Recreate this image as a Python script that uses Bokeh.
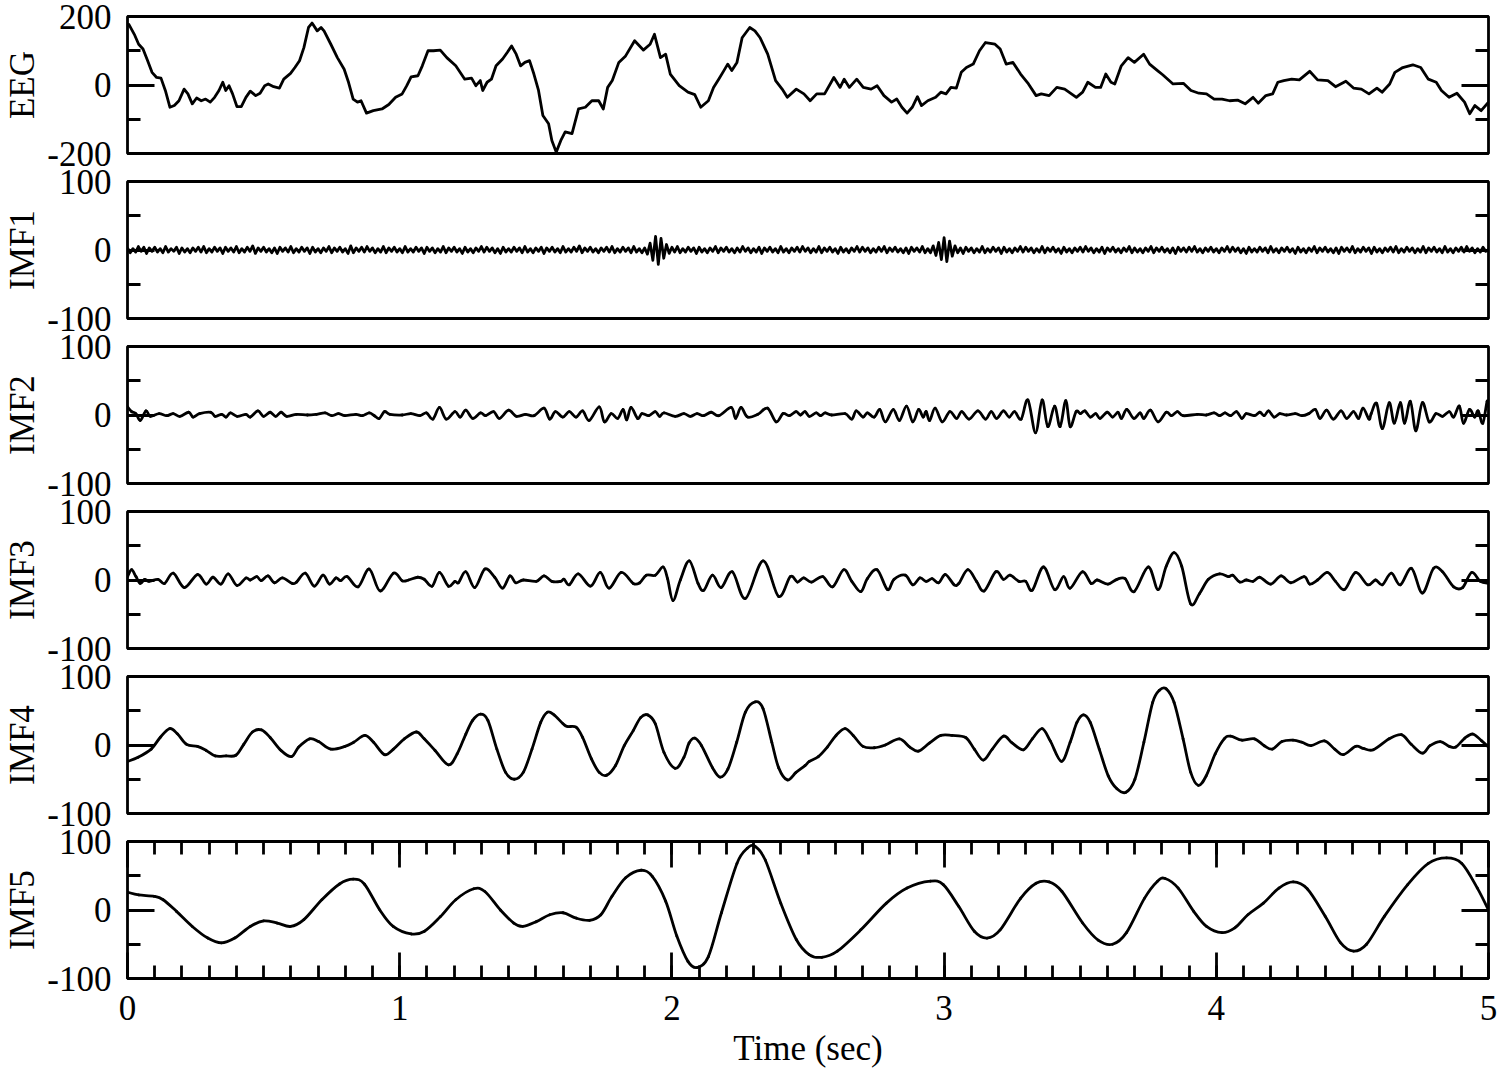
import numpy as np
from bokeh.plotting import figure
from bokeh.layouts import column
from bokeh.models import Range1d, LinearAxis, FixedTicker, SingleIntervalTicker, CustomJSTickFormatter
from bokeh.embed import file_html
from bokeh.resources import INLINE

FONT = "Liberation Serif"

# ---------------- data ----------------
panel_names = ["EEG", "IMF1", "IMF2", "IMF3", "IMF4", "IMF5"]
panel_limits = [200, 100, 100, 100, 100, 100]

eeg_t = [0.000, 0.005, 0.025, 0.041, 0.057, 0.074, 0.090, 0.107, 0.123, 0.139,
         0.156, 0.172, 0.189, 0.208, 0.222, 0.238, 0.254, 0.271, 0.287, 0.304,
         0.320, 0.336, 0.350, 0.361, 0.373, 0.386, 0.402, 0.418, 0.435, 0.451,
         0.471, 0.487, 0.504, 0.517, 0.537, 0.558, 0.574, 0.599, 0.615, 0.632,
         0.648, 0.665, 0.678, 0.697, 0.711, 0.722, 0.747, 0.771, 0.796, 0.812,
         0.829, 0.845, 0.858, 0.878, 0.903, 0.935, 0.960, 0.985, 1.009, 1.026,
         1.042, 1.067, 1.083, 1.104, 1.124, 1.149, 1.173, 1.206, 1.239, 1.264,
         1.280, 1.296, 1.305, 1.321, 1.337, 1.354, 1.378, 1.395, 1.411, 1.428,
         1.444, 1.460, 1.477, 1.493, 1.510, 1.526, 1.547, 1.559, 1.575, 1.592,
         1.608, 1.633, 1.657, 1.682, 1.706, 1.731, 1.748, 1.764, 1.781, 1.805,
         1.830, 1.863, 1.895, 1.920, 1.936, 1.958, 1.977, 1.994, 2.027, 2.059,
         2.084, 2.106, 2.134, 2.153, 2.172, 2.191, 2.205, 2.220, 2.239, 2.258,
         2.286, 2.305, 2.324, 2.352, 2.381, 2.405, 2.424, 2.457, 2.485, 2.508,
         2.532, 2.561, 2.595, 2.618, 2.633, 2.652, 2.679, 2.703, 2.732, 2.754,
         2.779, 2.807, 2.826, 2.845, 2.864, 2.883, 2.902, 2.917, 2.940, 2.969,
         2.988, 3.007, 3.025, 3.045, 3.063, 3.082, 3.107, 3.130, 3.152, 3.187,
         3.206, 3.228, 3.253, 3.281, 3.310, 3.338, 3.357, 3.386, 3.414, 3.443,
         3.486, 3.509, 3.528, 3.556, 3.575, 3.594, 3.613, 3.627, 3.651, 3.676,
         3.699, 3.733, 3.755, 3.784, 3.803, 3.841, 3.879, 3.907, 3.936, 3.964,
         3.992, 4.021, 4.049, 4.078, 4.106, 4.135, 4.154, 4.182, 4.207, 4.226,
         4.248, 4.277, 4.305, 4.343, 4.372, 4.410, 4.438, 4.476, 4.504, 4.533,
         4.561, 4.590, 4.609, 4.637, 4.656, 4.685, 4.722, 4.751, 4.779, 4.808,
         4.827, 4.855, 4.884, 4.912, 4.931, 4.950, 4.973, 5.000]
eeg_v = [172, 177, 148, 119, 105, 71, 37, 22, 20, -16,
         -65, -60, -46, -12, -26, -55, -38, -46, -41, -50,
         -36, -16, 8, -16, -2, -26, -63, -63, -36, -18,
         -31, -24, -2, 3, -5, -9, 17, 34, 51, 71,
         109, 168, 181, 158, 168, 158, 119, 80, 46, 8,
         -41, -50, -46, -82, -75, -70, -57, -36, -26, -2,
         24, 27, 56, 100, 100, 102, 80, 56, 17, 20,
         -2, 13, -16, 8, 17, 56, 76, 95, 114, 90,
         56, 66, 71, 32, -16, -89, -113, -162, -196, -162,
         -137, -142, -70, -65, -46, -46, -70, -7, 13, 66,
         85, 129, 102, 119, 148, 80, 90, 32, -2, -21,
         -28, -65, -46, -7, 17, 42, 61, 42, 66, 138,
         168, 158, 138, 90, 13, -12, -36, -12, -26, -46,
         -26, -26, 22, -7, 17, -7, 17, -7, -12, -2,
         -31, -50, -41, -65, -82, -65, -34, -60, -46, -36,
         -21, -26, -7, -9, 37, 51, 61, 100, 124, 119,
         105, 61, 66, 32, 3, -31, -26, -31, -7, -12,
         -36, -21, 8, -7, -7, 32, 8, 3, 56, 80,
         66, 90, 61, 42, 30, 3, 5, -16, -24, -26,
         -41, -41, -46, -44, -55, -36, -53, -31, -26, 8,
         13, 17, 15, 40, 15, 13, -5, 11, -9, -12,
         -26, -9, -21, 3, 37, 51, 59, 51, 17, 8,
         -16, -36, -24, -50, -84, -60, -75, -50]

# IMF1: high-frequency component, one value every 0.01 s
imf1_step = 0.01
imf1_v = [3, -4, 2, -3, 5, -2, 4, -5, 3, -2, 4, -3, 2, -4, 5, -3, 2, -2, 4, -5, 3, -3, 2, -4, 3,
          -2, 4, -3, 5, -4, 2, -3, 4, -2, 3, -5, 4, -2, 3, -3, 5, -4, 2, -3, 4, -2, 6, -5, 3, -2,
          4, -3, 2, -4, 3, -5, 4, -2, 3, -3, 5, -4, 2, -3, 4, -2, 3, -5, 4, -3, 2, -4, 3, -2, 5,
          -4, 3, -2, 4, -3, 2, -5, 6, -4, 3, -2, 4, -3, 5, -2, 3, -4, 2, -3, 5, -4, 3, -2, 4, -3,
          2, -4, 5, -3, 2, -3, 4, -2, 3, -5, 4, -2, 3, -4, 2, -3, 5, -4, 3, -2, 4, -3, 2, -5, 4,
          -3, 2, -4, 3, -2, 5, -3, 4, -2, 3, -4, 2, -5, 4, -3, 2, -3, 4, -2, 3, -4, 5, -3, 2, -4,
          3, -2, 4, -5, 3, -2, 4, -3, 2, -4, 5, -3, 2, -3, 4, -2, 6, -4, 3, -2, 4, -3, 2, -4, 3,
          -2, 4, -3, 5, -4, 2, -3, 4, -2, 3, -4, 5, -3, 2, -4, 3, -6, 10, -15, 20, -21, 17, -12, 8, -5,
          4, -3, 5, -4, 2, -3, 4, -2, 3, -5, 4, -3, 2, -4, 3, -2, 5, -4, 3, -2, 4, -3, 2, -4, 3,
          -3, 5, -2, 3, -4, 2, -3, 4, -5, 3, -2, 4, -3, 2, -4, 5, -3, 2, -4, 3, -2, 4, -3, 5, -2,
          3, -4, 2, -3, 5, -4, 3, -2, 4, -3, 2, -5, 4, -3, 2, -4, 3, -2, 5, -3, 4, -2, 3, -4, 2,
          -3, 4, -2, 5, -4, 3, -2, 4, -3, 2, -4, 3, -5, 4, -2, 3, -3, 5, -4, 2, -4, 6, -8, 11, -14,
          18, -17, 13, -9, 6, -4, 3, -5, 4, -2, 3, -4, 2, -3, 5, -4, 2, -3, 4, -2, 3, -5, 4, -3, 2,
          -4, 3, -2, 5, -3, 4, -2, 3, -4, 2, -3, 5, -4, 3, -2, 4, -3, 2, -5, 4, -3, 2, -4, 3, -2,
          4, -3, 5, -2, 3, -4, 2, -3, 4, -5, 3, -2, 4, -3, 2, -4, 3, -2, 5, -4, 3, -3, 2, -4, 3,
          -2, 5, -4, 3, -2, 4, -3, 2, -4, 3, -5, 4, -2, 3, -3, 4, -2, 5, -3, 2, -4, 3, -2, 4, -3,
          2, -4, 3, -2, 5, -3, 4, -2, 3, -4, 2, -5, 4, -3, 2, -3, 4, -2, 3, -4, 5, -3, 2, -4, 3,
          -2, 4, -3, 2, -5, 4, -3, 2, -4, 3, -2, 5, -4, 3, -2, 4, -3, 2, -4, 3, -5, 4, -2, 3, -3,
          5, -4, 2, -3, 4, -2, 3, -5, 4, -3, 2, -4, 3, -2, 4, -3, 5, -4, 2, -3, 4, -2, 3, -4, 2,
          -3, 5, -4, 3, -2, 4, -3, 2, -4, 5, -3, 2, -4, 3, -2, 4, -3, 5, -2, 3, -4, 2, -3, 4, -2,
          1]

imf2_t = [0.000, 0.015, 0.031, 0.047, 0.068, 0.084, 0.116, 0.144, 0.168, 0.192,
          0.225, 0.241, 0.265, 0.306, 0.322, 0.346, 0.362, 0.378, 0.403, 0.435,
          0.451, 0.479, 0.500, 0.524, 0.544, 0.564, 0.585, 0.621, 0.661, 0.694,
          0.726, 0.750, 0.775, 0.799, 0.839, 0.863, 0.888, 0.907, 0.925, 0.944,
          0.964, 1.009, 1.041, 1.074, 1.098, 1.122, 1.146, 1.171, 1.203, 1.222,
          1.243, 1.268, 1.297, 1.316, 1.345, 1.366, 1.400, 1.429, 1.462, 1.494,
          1.530, 1.551, 1.572, 1.599, 1.623, 1.648, 1.672, 1.696, 1.733, 1.752,
          1.777, 1.801, 1.821, 1.834, 1.850, 1.874, 1.890, 1.915, 1.939, 1.955,
          1.971, 2.012, 2.044, 2.068, 2.092, 2.117, 2.144, 2.173, 2.218, 2.234,
          2.254, 2.278, 2.316, 2.351, 2.383, 2.408, 2.432, 2.456, 2.472, 2.489,
          2.505, 2.530, 2.546, 2.563, 2.587, 2.636, 2.661, 2.677, 2.702, 2.718,
          2.743, 2.764, 2.784, 2.813, 2.836, 2.862, 2.885, 2.906, 2.923, 2.934,
          2.947, 2.967, 2.993, 3.021, 3.046, 3.065, 3.092, 3.124, 3.152, 3.173,
          3.193, 3.218, 3.239, 3.259, 3.283, 3.308, 3.336, 3.360, 3.381, 3.406,
          3.426, 3.447, 3.463, 3.485, 3.501, 3.517, 3.537, 3.557, 3.573, 3.599,
          3.619, 3.639, 3.652, 3.671, 3.697, 3.720, 3.734, 3.758, 3.786, 3.816,
          3.835, 3.857, 3.878, 3.930, 3.963, 3.992, 4.012, 4.032, 4.053, 4.074,
          4.094, 4.110, 4.140, 4.160, 4.176, 4.192, 4.212, 4.233, 4.258, 4.290,
          4.315, 4.340, 4.364, 4.381, 4.405, 4.430, 4.458, 4.479, 4.504, 4.523,
          4.539, 4.561, 4.569, 4.589, 4.610, 4.635, 4.654, 4.676, 4.692, 4.713,
          4.733, 4.757, 4.782, 4.807, 4.831, 4.856, 4.872, 4.893, 4.908, 4.930,
          4.949, 4.962, 4.979, 4.995, 5.000]
imf2_v = [12, 5, 2, -8, 6, -2, 2, -1, 2, -2,
          4, -3, 2, 4, -2, 1, -3, 3, -2, 1,
          -3, 6, -2, 4, -2, 4, -2, 1, 0, 1,
          3, -1, 2, -1, 1, -1, 3, -1, -5, 5,
          1, 0, 2, -1, 3, -6, 11, -6, 5, -3,
          7, -5, 3, -1, 5, -5, 7, -2, 1, -1,
          10, -6, 5, -3, 5, -3, 6, -8, 12, -10,
          2, -5, 8, -7, 11, -5, 2, -1, 5, -2,
          3, -2, 2, -2, 2, -1, 4, -1, 11, -5,
          11, -3, 1, 10, -10, 2, -1, 5, 0, 5,
          -2, 3, -1, 3, 0, 2, -6, 6, -3, 3,
          -3, 8, -10, 8, -8, 13, -10, 8, -3, 5,
          -8, 10, -10, 5, -5, 5, -6, 6, -6, 5,
          -5, 6, -3, 5, -6, 22, -26, 22, -17, 13,
          -17, 21, -17, 5, 2, 6, -3, 2, -5, 4,
          -3, 4, -5, 8, -5, 3, -5, 7, -10, 4,
          -1, 5, -1, 1, 0, 3, -1, 3, -1, 5,
          -5, 2, -1, 4, -1, 6, -3, 2, 0, 2,
          -1, 2, 8, -5, 7, -6, 6, -5, 5, -5,
          10, -6, 2, 17, -20, 18, -12, 18, -12, 20,
          -23, 18, -10, 2, -2, 5, -3, 13, -12, 8,
          -3, 6, -12, 20, 12]

imf3_t = [0.000, 0.015, 0.031, 0.047, 0.063, 0.079, 0.112, 0.136, 0.168, 0.209,
          0.257, 0.289, 0.314, 0.343, 0.370, 0.402, 0.435, 0.451, 0.475, 0.491,
          0.516, 0.540, 0.569, 0.605, 0.621, 0.653, 0.686, 0.718, 0.742, 0.766,
          0.783, 0.807, 0.847, 0.888, 0.928, 0.977, 1.009, 1.033, 1.066, 1.090,
          1.119, 1.146, 1.179, 1.203, 1.216, 1.243, 1.276, 1.313, 1.349, 1.378,
          1.405, 1.426, 1.454, 1.502, 1.530, 1.559, 1.591, 1.604, 1.623, 1.656,
          1.701, 1.737, 1.769, 1.814, 1.858, 1.882, 1.906, 1.939, 1.968, 1.984,
          2.004, 2.031, 2.064, 2.096, 2.117, 2.149, 2.181, 2.222, 2.270, 2.335,
          2.392, 2.435, 2.461, 2.484, 2.513, 2.554, 2.590, 2.631, 2.661, 2.694,
          2.718, 2.754, 2.792, 2.816, 2.857, 2.885, 2.911, 2.934, 2.956, 2.980,
          3.005, 3.037, 3.054, 3.087, 3.119, 3.147, 3.190, 3.218, 3.242, 3.275,
          3.300, 3.324, 3.365, 3.406, 3.439, 3.463, 3.508, 3.540, 3.562, 3.602,
          3.635, 3.665, 3.698, 3.750, 3.786, 3.816, 3.845, 3.873, 3.906, 3.938,
          3.971, 4.012, 4.045, 4.061, 4.086, 4.110, 4.135, 4.160, 4.200, 4.238,
          4.274, 4.323, 4.343, 4.372, 4.408, 4.438, 4.471, 4.512, 4.556, 4.585,
          4.610, 4.643, 4.676, 4.717, 4.757, 4.798, 4.831, 4.872, 4.905, 4.938,
          4.970, 5.000]
imf3_v = [5, 15, 5, -5, 1, -2, 1, -5, 10, -11,
          8, -6, 4, -6, 9, -8, 3, 0, 5, -1,
          6, -4, 3, -5, -3, 10, -9, 7, -6, 3,
          -1, 5, -10, 16, -16, 10, -1, 0, 4, 1,
          -9, 11, -9, -2, -4, 12, -11, 16, 4, -12,
          6, -4, 0, -2, 6, -2, -2, 1, -7, 9,
          -9, 11, -12, 11, -5, -4, 7, 7, 19, 2,
          -30, 0, 28, -5, -15, 7, -11, 12, -27, 28,
          -24, 5, -3, 3, -3, 5, -10, 15, -2, -17,
          2, 15, -14, 1, 7, -7, 3, -2, 2, -4,
          8, -7, -5, 15, -2, -16, 12, 1, 7, -2,
          -2, -15, 19, -14, 5, -12, 12, -5, 0, -6,
          1, 2, -17, 19, -14, 20, 40, 20, -35, -20,
          1, 9, 5, 7, -3, 0, -2, 4, -6, 6,
          -4, 5, -6, 0, 11, -2, -14, 11, -7, 0,
          -7, 10, -7, 17, -19, 17, 12, -10, -11, 11,
          -2, -5]

imf4_t = [0.000, 0.039, 0.087, 0.120, 0.155, 0.184, 0.217, 0.257, 0.289, 0.322,
          0.362, 0.398, 0.427, 0.459, 0.492, 0.524, 0.564, 0.602, 0.629, 0.669,
          0.702, 0.747, 0.799, 0.831, 0.872, 0.904, 0.944, 0.977, 1.017, 1.061,
          1.090, 1.130, 1.179, 1.211, 1.243, 1.268, 1.297, 1.324, 1.357, 1.389,
          1.421, 1.454, 1.486, 1.518, 1.543, 1.567, 1.600, 1.616, 1.648, 1.672,
          1.704, 1.733, 1.761, 1.793, 1.825, 1.858, 1.885, 1.911, 1.939, 1.971,
          2.012, 2.044, 2.063, 2.084, 2.109, 2.149, 2.177, 2.206, 2.238, 2.270,
          2.306, 2.335, 2.367, 2.392, 2.424, 2.456, 2.489, 2.505, 2.538, 2.571,
          2.603, 2.636, 2.666, 2.702, 2.743, 2.784, 2.836, 2.874, 2.906, 2.947,
          2.988, 3.029, 3.079, 3.111, 3.144, 3.177, 3.218, 3.250, 3.291, 3.324,
          3.360, 3.390, 3.431, 3.463, 3.488, 3.512, 3.537, 3.570, 3.603, 3.635,
          3.668, 3.701, 3.734, 3.766, 3.791, 3.816, 3.845, 3.878, 3.906, 3.934,
          3.963, 3.996, 4.029, 4.053, 4.094, 4.140, 4.176, 4.206, 4.241, 4.282,
          4.315, 4.348, 4.397, 4.435, 4.467, 4.512, 4.540, 4.577, 4.635, 4.680,
          4.716, 4.757, 4.785, 4.823, 4.856, 4.880, 4.913, 4.943, 4.975, 5.000]
imf4_v = [-24, -18, -6, 11, 24, 16, 1, -2, -8, -16,
          -16, -15, 1, 19, 22, 11, -8, -17, -3, 9,
          5, -6, -2, 4, 14, 4, -14, -6, 9, 19,
          9, -8, -29, -13, 16, 36, 45, 36, -6, -40,
          -50, -40, -6, 33, 48, 44, 31, 27, 26, 11,
          -20, -40, -44, -30, -1, 21, 40, 44, 31, -11,
          -34, -18, 3, 10, -1, -33, -47, -35, 4, 48,
          63, 53, 4, -33, -51, -40, -30, -24, -17, -3,
          14, 24, 14, -2, -4, 0, 9, -3, -9, 3,
          14, 14, 11, -6, -22, -6, 13, 3, -7, 9,
          24, 6, -24, 4, 33, 44, 33, -6, -45, -64,
          -69, -50, 4, 62, 80, 82, 62, 9, -40, -59,
          -45, -13, 9, 13, 7, 9, -1, -6, 5, 7,
          4, -1, 6, -6, -14, -2, -5, -7, 9, 15,
          1, -12, -1, 5, -2, -3, 10, 16, 6, -3]

imf5_t = [0.000, 0.041, 0.098, 0.131, 0.180, 0.238, 0.295, 0.345, 0.394, 0.451,
          0.500, 0.550, 0.599, 0.648, 0.714, 0.779, 0.829, 0.870, 0.927, 0.976,
          1.042, 1.091, 1.149, 1.206, 1.272, 1.313, 1.370, 1.419, 1.452, 1.502,
          1.551, 1.600, 1.649, 1.698, 1.739, 1.780, 1.830, 1.887, 1.928, 1.977,
          2.018, 2.059, 2.092, 2.134, 2.182, 2.239, 2.277, 2.305, 2.343, 2.400,
          2.457, 2.504, 2.551, 2.608, 2.694, 2.788, 2.864, 2.950, 2.997, 3.054,
          3.111, 3.158, 3.206, 3.281, 3.338, 3.386, 3.433, 3.509, 3.566, 3.619,
          3.670, 3.736, 3.784, 3.812, 3.860, 3.917, 3.964, 4.021, 4.068, 4.116,
          4.173, 4.230, 4.283, 4.334, 4.400, 4.457, 4.504, 4.552, 4.618, 4.703,
          4.779, 4.846, 4.902, 4.959, 5.000]
imf5_v = [26, 22, 20, 15, -2, -24, -41, -48, -41, -24,
          -16, -19, -24, -14, 15, 38, 45, 38, 0, -24,
          -35, -31, -10, 15, 31, 27, 0, -19, -24, -17,
          -7, -4, -12, -15, -7, 20, 47, 58, 49, 13,
          -38, -75, -84, -68, -4, 68, 90, 93, 73, 10,
          -43, -65, -69, -60, -29, 10, 32, 42, 37, 5,
          -31, -41, -29, 17, 39, 41, 27, -19, -44, -50,
          -33, 17, 42, 46, 32, -2, -24, -33, -26, -7,
          10, 32, 41, 31, -9, -48, -60, -50, -9, 37,
          68, 76, 68, 32, 0]

imf1_t = list(np.arange(len(imf1_v)) * imf1_step)
series_t = [eeg_t, imf1_t, imf2_t, imf3_t, imf4_t, imf5_t]
series_v = [eeg_v, imf1_v, imf2_v, imf3_v, imf4_v, imf5_v]
smooth_curve = [False, False, True, True, True, True]

# ---------------- styling ----------------
FRAME_W = 1361
FRAME_H = 137
GAP_HALF = 14
LW = 2.8
TXT = "35px"

x_range = Range1d(0, 5)
blank = CustomJSTickFormatter(code="return '';")
plain = CustomJSTickFormatter(code="return tick.toFixed(0);")


def style_axis(ax, major_len, minor_len):
    ax.axis_line_color = None
    ax.major_tick_in = major_len
    ax.major_tick_out = 0
    ax.minor_tick_in = minor_len
    ax.minor_tick_out = 0
    ax.major_tick_line_width = LW
    ax.minor_tick_line_width = LW
    ax.major_tick_line_color = "black"
    ax.minor_tick_line_color = "black"
    ax.major_label_text_font = FONT
    ax.major_label_text_font_size = TXT
    ax.major_label_text_color = "black"
    ax.axis_label_text_font = FONT
    ax.axis_label_text_font_size = TXT
    ax.axis_label_text_font_style = "normal"
    ax.axis_label_text_color = "black"


def bezier_segments(t, v):
    # cubic pieces that pass through every read point (Catmull-Rom tangents)
    x = np.asarray(t, dtype=float)
    y = np.asarray(v, dtype=float)
    xp = np.concatenate([[x[0]], x, [x[-1]]])
    yp = np.concatenate([[y[0]], y, [y[-1]]])
    x0, y0, x1, y1 = x[:-1], y[:-1], x[1:], y[1:]
    cx0 = x0 + (xp[2:-1] - xp[:-3]) / 6.0
    cy0 = y0 + (yp[2:-1] - yp[:-3]) / 6.0
    cx1 = x1 - (xp[3:] - xp[1:-2]) / 6.0
    cy1 = y1 - (yp[3:] - yp[1:-2]) / 6.0
    return dict(x0=x0, y0=y0, x1=x1, y1=y1, cx0=cx0, cy0=cy0, cx1=cx1, cy1=cy1)


panels = []
n = len(panel_names)
for i in range(n):
    lim = panel_limits[i]
    last = i == n - 1
    p = figure(frame_width=FRAME_W, frame_height=FRAME_H,
               x_range=x_range, y_range=Range1d(-lim, lim),
               output_backend="svg", toolbar_location=None,
               x_axis_location="below" if last else None,
               min_border_left=127, min_border_right=10,
               min_border_top=16 if i == 0 else GAP_HALF,
               min_border_bottom=0 if last else GAP_HALF)
    p.grid.visible = False
    p.outline_line_color = "black"
    p.outline_line_width = LW
    p.outline_line_alpha = 1.0

    yt = FixedTicker(ticks=[-lim, 0, lim], minor_ticks=[-lim / 2, lim / 2])
    ya = p.yaxis[0]
    ya.ticker = yt
    ya.formatter = plain
    style_axis(ya, 27, 13)
    ya.major_label_standoff = 16
    ya.axis_label = panel_names[i]
    ya.axis_label_standoff = 2

    ra = LinearAxis(ticker=yt, formatter=blank)
    style_axis(ra, 27, 13)
    ra.major_label_standoff = 0
    p.add_layout(ra, "right")

    if last:
        xt = SingleIntervalTicker(interval=1, num_minor_ticks=10)
        xa = p.xaxis[0]
        xa.ticker = xt
        xa.formatter = plain
        style_axis(xa, 26, 13)
        xa.major_label_standoff = 17
        xa.axis_label = "Time (sec)"
        xa.axis_label_standoff = 6
        ta = LinearAxis(ticker=xt, formatter=blank)
        style_axis(ta, 26, 13)
        ta.major_label_standoff = 0
        p.add_layout(ta, "above")

    if smooth_curve[i]:
        p.bezier(**bezier_segments(series_t[i], series_v[i]),
                 line_color="black", line_width=LW, line_cap="round")
    else:
        p.line(series_t[i], series_v[i], line_color="black", line_width=LW,
               line_join="round")
    panels.append(p)

layout = column(*panels)
open("out.html", "w").write(file_html(layout, INLINE))
